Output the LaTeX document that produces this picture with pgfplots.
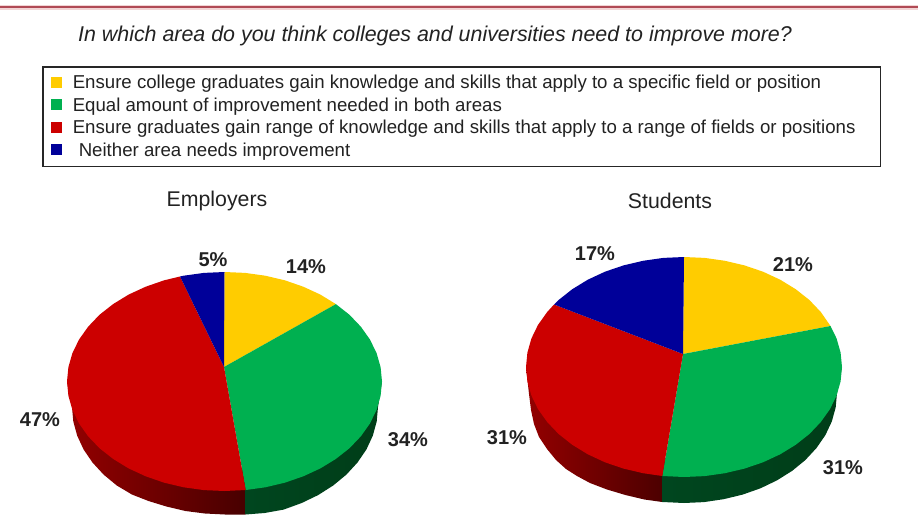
\documentclass[border=0pt]{standalone}
\usepackage{fontspec}
\setmainfont{Liberation Sans}
\usepackage{pgfplots}
\pgfplotsset{compat=1.18}
\definecolor{pyellow}{HTML}{FFCC00}
\definecolor{pgreen}{HTML}{00B050}
\definecolor{pred}{HTML}{CC0000}
\definecolor{pblue}{HTML}{000099}
\definecolor{sidegreenA}{HTML}{00461F}
\definecolor{sidegreenB}{HTML}{003D18}
\definecolor{txt}{HTML}{222222}
\definecolor{rule}{HTML}{B04A55}
\definecolor{rulehalo}{HTML}{F2D5D5}
\begin{document}
\begin{tikzpicture}
\useasboundingbox (0,0) rectangle (918pt,514pt);
\begin{axis}[
    at={(0,0)}, anchor=south west,
    scale only axis, width=918pt, height=514pt,
    xmin=0, xmax=918, ymin=0, ymax=514,
    y dir=reverse,
    hide axis,
    legend style={
        at={(axis cs:42,66)}, anchor=north west,
        draw=black!85, line width=1.5pt, fill=white,
        font=\fontsize{18.65}{20}\selectfont\color{txt},
        inner xsep=8pt, inner ysep=6.5pt,
        row sep=3.5pt,
    },
    legend cell align=left,
    legend image code/.code={\path[#1] (0pt,-5pt) rectangle (11pt,6pt); \path (20pt,0pt);},
]
% rule along the top
\addplot[forget plot, color=rulehalo, line width=5pt] coordinates {(0,7) (918,7)};
\addplot[forget plot, color=rule, line width=2pt] coordinates {(0,7) (918,7)};

% Employers: sides
\addplot[forget plot, draw=none, left color=red!58!black, right color=red!28!black] coordinates {
 (67,381.5) (72,407) (73.3,421.5) (77.2,435.7) (83.6,449.5) (92.5,462.5) (103.6,474.6) (116.8,485.5)
 (131.9,494.5) (148.5,501) (166.4,506.5) (185.4,511) (205,513.5) (225,514.5) (245.7,514.5) (245.7,470)} -- cycle;
\addplot[forget plot, draw=none, left color=sidegreenA, right color=sidegreenB] coordinates {
 (245.7,470) (245.7,514.5) (264.6,513) (283.6,509.6) (301.5,503.1) (318.1,495.1) (333.2,485.5) (346.4,474.6)
 (357.5,462.5) (366.4,449.5) (372.8,435.7) (376.7,421.5) (378,407) (382,381.5)} -- cycle;
% Students: sides
\addplot[forget plot, draw=none, left color=red!58!black, right color=red!30!black] coordinates {
 (526,367) (529,394) (531,410) (534,424) (539,437) (547,449) (556,460) (566,469) (577,476)
 (590,483) (607,489.5) (625.4,495) (644.4,499.5) (662.3,502) (662.3,460)} -- cycle;
\addplot[forget plot, draw=none, left color=sidegreenA, right color=sidegreenB] coordinates {
 (662.3,460) (662.3,502) (684,503) (704,502.1) (723.6,499.2) (742.6,494.6) (760.5,488.3) (777.1,480.3)
 (792.2,470.8) (805.4,460) (816.5,448) (825.4,435.1) (831.8,421.5) (835.7,407.4) (837,393) (842,367)} -- cycle;

% Employers: top face
\addplot[fill=pyellow, draw=none] coordinates {
 (224,367) (224.5,272) (245.1,272.9) (265.3,275.7) (284.8,280.3) (303.3,286.7) (320.4,294.6) (335.9,304.1)} -- cycle;
\addplot[fill=pgreen, draw=none] coordinates {
 (224,367) (335.9,304.1) (349.5,314.8) (360.9,326.75) (370,339.6) (376.6,353.2) (380.6,367.2) (382,381.5)
 (380.6,395.8) (376.6,409.8) (370,423.4) (360.9,436.25) (349.5,448.2) (335.9,458.9) (320.4,468.4) (303.3,476.3)
 (284.8,482.7) (265.3,487.3) (245.7,490)} -- cycle;
\addplot[fill=pred, draw=none] coordinates {
 (224,367) (245.7,490) (224.5,491) (203.9,490.1) (183.7,487.3) (164.2,482.7) (145.7,476.3) (128.6,468.4)
 (113.1,458.9) (99.5,448.2) (88.1,436.25) (79,423.4) (72.4,409.8) (68.4,395.8) (67,381.5) (68.4,367.2)
 (72.4,353.2) (79,339.6) (88.1,326.75) (99.5,314.8) (113.1,304.1) (128.6,294.6) (145.7,286.7) (164.2,280.3) (180,276.5)} -- cycle;
\addplot[fill=pblue, draw=none] coordinates {
 (224,367) (180,276.5) (183.7,275.7) (203.9,272.9) (224.5,272)} -- cycle;
\addlegendentry{Ensure college graduates gain knowledge and skills that apply to a specific field or position}
\addlegendentry{Equal amount of improvement needed in both areas}
\addlegendentry{Ensure graduates gain range of knowledge and skills that apply to a range of fields or positions\hspace*{15pt}\mbox{}}
\addlegendentry{\hspace*{6pt}Neither area needs improvement}

% Students: top face
\addplot[forget plot, fill=pyellow, draw=none] coordinates {
 (683,354) (684,257) (704.6,257.9) (724.9,260.8) (744.5,265.4) (763,271.7) (780.2,279.7) (795.7,289.2)
 (809.4,300) (820.8,312) (830.5,326)} -- cycle;
\addplot[forget plot, fill=pgreen, draw=none] coordinates {
 (683,354) (830.5,326) (836.6,338.5) (840.6,352.6) (842,367) (840.6,381.4) (836.6,395.5) (830,409.1)
 (820.8,422) (809.4,434) (795.7,444.8) (780.2,454.3) (763,462.3) (744.5,468.6) (724.9,473.2) (704.6,476.1)
 (684,477) (662.3,476)} -- cycle;
\addplot[forget plot, fill=pred, draw=none] coordinates {
 (683,354) (662.3,476) (643.1,473.2) (623.5,468.6) (605,462.3) (587.8,454.3) (572.3,444.8) (558.6,434)
 (547.2,422) (538,409.1) (531.4,395.5) (527.4,381.4) (526,367) (527.4,352.6) (531.4,338.5) (538,324.9)
 (547.2,312) (554,304.5)} -- cycle;
\addplot[forget plot, fill=pblue, draw=none] coordinates {
 (683,354) (554,304.5) (558.6,300) (572.3,289.2) (587.8,279.7) (605,271.7) (623.5,265.4) (643.1,260.8)
 (663.4,257.9) (684,257)} -- cycle;

% titles
\node[txt, font=\fontsize{21.4}{24}\selectfont\itshape] at (axis cs:435,36) {In which area do you think colleges and universities need to improve more?};
\node[txt, font=\fontsize{21.3}{24}\selectfont] at (axis cs:217,201) {Employers};
\node[txt, font=\fontsize{21.3}{24}\selectfont] at (axis cs:670,201) {Students};

% value labels
\tikzset{val/.style={txt, font=\fontsize{20}{22}\selectfont\bfseries}}
\node[val] at (axis cs:306,267) {14\%};
\node[val] at (axis cs:213,260) {5\%};
\node[val] at (axis cs:40,420) {47\%};
\node[val] at (axis cs:408,440) {34\%};
\node[val] at (axis cs:595,254) {17\%};
\node[val] at (axis cs:793,265) {21\%};
\node[val] at (axis cs:507,438) {31\%};
\node[val] at (axis cs:843,468) {31\%};
\end{axis}
\end{tikzpicture}
\end{document}
